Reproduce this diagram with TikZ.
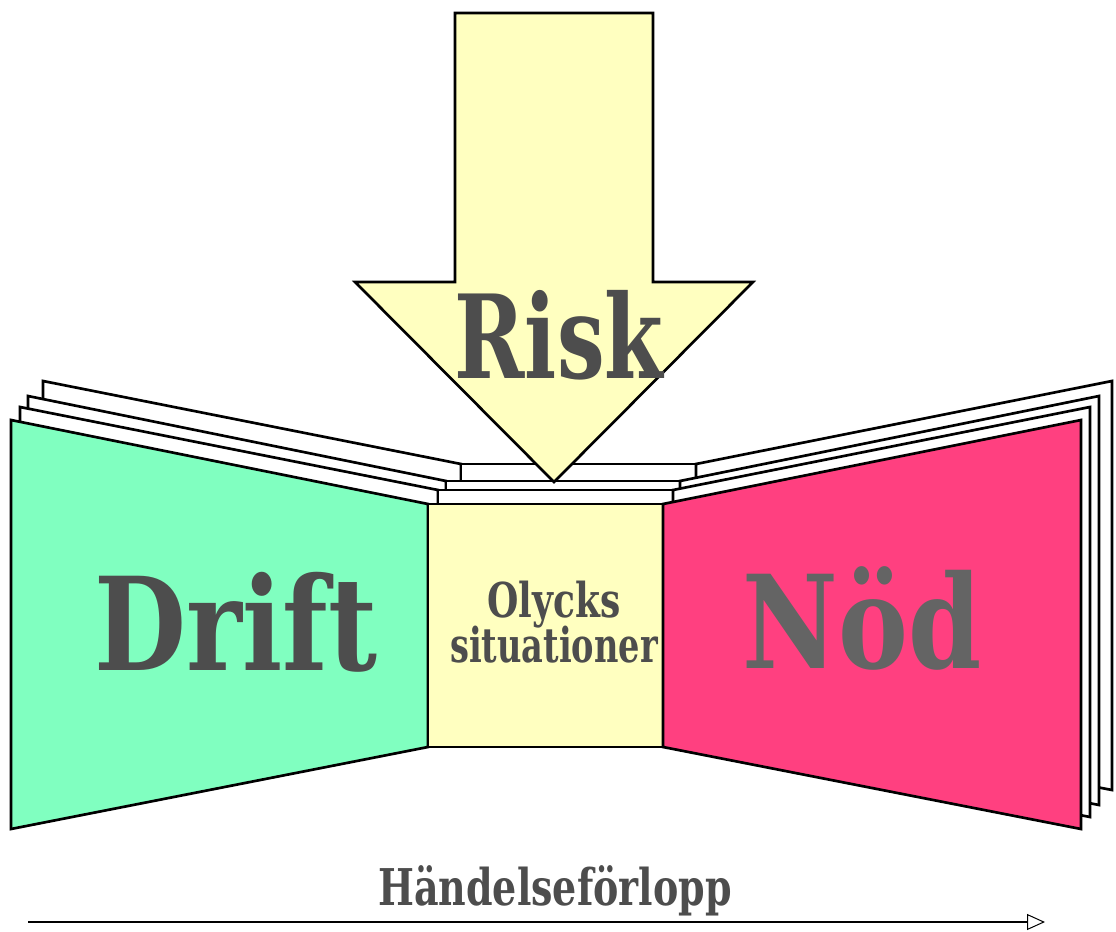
\documentclass[tikz,border=0pt]{standalone}
\usepackage{fontspec}
\usetikzlibrary{arrows.meta}
\newfontfamily\labelfont{DejaVu Serif}
\definecolor{driftgreen}{RGB}{128,255,192}
\definecolor{olyckyellow}{RGB}{255,255,192}
\definecolor{nodpink}{RGB}{255,64,128}
\definecolor{textgray}{RGB}{77,77,77}
\definecolor{nodgray}{RGB}{100,100,100}
\tikzset{
  page/.style={draw=black,fill=white,line width=2pt,line join=miter},
  panel/.style={draw=black,line width=2pt},
  biglabel/.style={inner sep=0pt,anchor=base,text=textgray,font=\labelfont\bfseries}
}
\begin{document}
\begin{tikzpicture}[x=0.75pt,y=0.75pt,yscale=-1,xscale=1]
\useasboundingbox (0,0) rectangle (1116,931);

%Shape: Page 3 (back) - left leaf, spine, right leaf
\draw [page] (43,381) -- (461,464) -- (461,710) -- (43,790) -- cycle ;
\draw [page] (461,464) -- (696,464) -- (696,710) -- (461,710) -- cycle ;
\draw [page] (696,464) -- (1112,381) -- (1112,790) -- (696,710) -- cycle ;
%Shape: Page 2 (middle)
\draw [page] (28,396) -- (446,481) -- (446,723) -- (28,805) -- cycle ;
\draw [page] (446,481) -- (680,481) -- (680,723) -- (446,723) -- cycle ;
\draw [page] (680,481) -- (1099,396) -- (1099,805) -- (680,723) -- cycle ;
%Shape: Page 1 (front)
\draw [page] (20,407) -- (438,490) -- (438,735) -- (20,817) -- cycle ;
\draw [page] (438,490) -- (673,490) -- (673,735) -- (438,735) -- cycle ;
\draw [page] (673,490) -- (1090,407) -- (1090,817) -- (673,735) -- cycle ;

%Shape: Left panel
\draw [panel,fill=driftgreen] (11,420) -- (428,504) -- (428,747) -- (11,829) -- cycle ;
%Shape: Centre panel
\draw [panel,fill=olyckyellow] (428,504) -- (663,504) -- (663,747) -- (428,747) -- cycle ;
%Shape: Right panel
\draw [panel,fill=nodpink] (663,504) -- (1081,420) -- (1081,829) -- (663,747) -- cycle ;

%Shape: Down Arrow
\draw [panel,fill=olyckyellow] (455,13) -- (653,13) -- (653,282) -- (753,282) -- (554,482) -- (355,282) -- (455,282) -- cycle ;

% Text Node
\node [biglabel] (risk) at (559,378) {\fontsize{87}{87}\selectfont\scalebox{0.73}[1]{Risk}};
% Text Node
\node [biglabel] (drift) at (236,670) {\fontsize{97}{97}\selectfont\scalebox{0.82}[1]{Drift}};
% Text Node
\node [biglabel,text=nodgray] (nod) at (862,668) {\fontsize{97}{97}\selectfont\scalebox{0.81}[1]{Nöd}};
% Text Node
\node [biglabel] (olycks) at (554,617) {\fontsize{36}{36}\selectfont\scalebox{0.75}[1]{Olycks}};
% Text Node
\node [biglabel] (situationer) at (554,662) {\fontsize{36}{36}\selectfont\scalebox{0.7}[1]{situationer}};
% Text Node
\node [biglabel] (handelse) at (555,905) {\fontsize{38}{38}\selectfont\scalebox{0.75}[1]{Händelseförlopp}};

%Straight Lines
\coordinate (tstart) at (28,922);
\coordinate (tend) at (1045,922);
\draw [line width=1.8pt,-{Triangle[open,length=13.5pt,width=12pt,line width=0.75pt]}] (tstart) -- (tend) ;

\end{tikzpicture}
\end{document}
